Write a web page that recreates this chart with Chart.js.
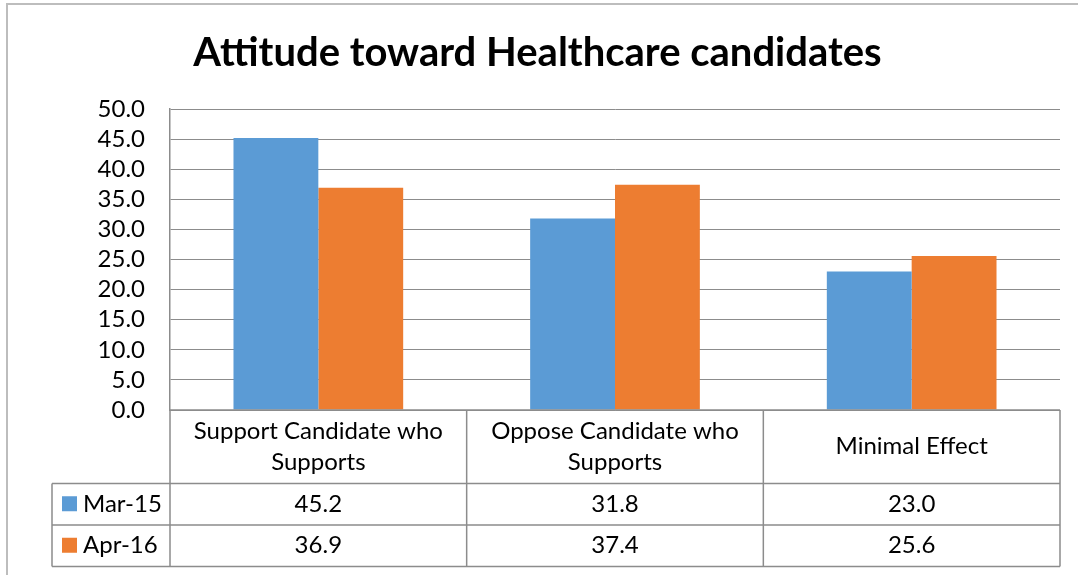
<!DOCTYPE html>
<html>
<head>
<meta charset="utf-8">
<script src="https://cdn.jsdelivr.net/npm/chart.js@4.4.1/dist/chart.umd.min.js"></script>
<style>
  html, body { margin: 0; padding: 0; background: #ffffff; }
  #wrap { width: 1078px; height: 575px; position: relative; }
</style>
</head>
<body>
<div id="wrap"><canvas id="chart" width="1078" height="575"></canvas></div>
<script>
// Survey categories (multi-line labels as shown in the table header)
const categories = [
  ['Support Candidate who', 'Supports'],
  ['Oppose Candidate who', 'Supports'],
  ['Minimal Effect']
];
const seriesNames = ['Mar-15', 'Apr-16'];
const mar15 = [45.2, 31.8, 23.0];
const apr16 = [36.9, 37.4, 25.6];
const yTicks = [0, 5, 10, 15, 20, 25, 30, 35, 40, 45, 50];

const BLUE = '#5B9BD5';
const ORANGE = '#ED7D31';
const LINE = '#8c8c8c';
const FONT = 'Lato, "Open Sans", sans-serif';
const TEXT_SIZE = 24;

// Frame around the whole chart object
const framePlugin = {
  id: 'frame',
  beforeDraw(chart) {
    const ctx = chart.ctx;
    ctx.save();
    ctx.fillStyle = '#ffffff';
    ctx.fillRect(0, 0, chart.width, chart.height);
    ctx.strokeStyle = '#bdbdbd';
    ctx.lineWidth = 2;
    ctx.strokeRect(7, 4, chart.width + 40, chart.height + 40);
    ctx.restore();
  }
};

// Data table under the plot: category header row + one row per series
const dataTablePlugin = {
  id: 'dataTable',
  afterDraw(chart) {
    const ctx = chart.ctx;
    const x = chart.scales.x;
    const area = chart.chartArea;
    const top = area.bottom;
    const headerH = 73.5;
    const rowH = 41.5;
    const keyLeft = 52;
    const right = area.right;
    const nCat = categories.length;
    const step = (area.right - area.left) / nCat;
    const rowsTop = top + headerH;
    const bottom = rowsTop + rowH * chart.data.datasets.length;

    ctx.save();
    ctx.strokeStyle = LINE;
    ctx.lineWidth = 1.5;
    ctx.beginPath();
    // horizontal rules
    ctx.moveTo(area.left, top); ctx.lineTo(right, top);
    for (let r = 0; r <= chart.data.datasets.length; r++) {
      const yy = rowsTop + r * rowH;
      ctx.moveTo(keyLeft, yy); ctx.lineTo(right, yy);
    }
    // vertical rules
    for (let c = 0; c <= nCat; c++) {
      const xx = area.left + c * step;
      ctx.moveTo(xx, top); ctx.lineTo(xx, bottom);
    }
    ctx.moveTo(keyLeft, rowsTop); ctx.lineTo(keyLeft, bottom);
    ctx.stroke();

    ctx.fillStyle = '#000000';
    ctx.font = TEXT_SIZE + 'px ' + FONT;
    ctx.textAlign = 'center';
    ctx.textBaseline = 'middle';
    // header: category names
    const lineGap = 31;
    chart.data.labels.forEach((lab, i) => {
      const lines = Array.isArray(lab) ? lab : [lab];
      const cx = x.getPixelForValue(i);
      const cy = top + headerH / 2;
      lines.forEach((ln, k) => {
        ctx.fillText(ln, cx, cy + (k - (lines.length - 1) / 2) * lineGap);
      });
    });
    // series rows: legend key + values
    chart.data.datasets.forEach((ds, r) => {
      const cy = rowsTop + r * rowH + rowH / 2;
      ctx.fillStyle = ds.backgroundColor;
      ctx.fillRect(62, cy - 8, 15, 15);
      ctx.fillStyle = '#000000';
      ctx.textAlign = 'left';
      ctx.fillText(ds.label, 83, cy);
      ctx.textAlign = 'center';
      ds.data.forEach((v, i) => {
        ctx.fillText(v.toFixed(1), x.getPixelForValue(i), cy);
      });
    });
    ctx.restore();
  }
};

new Chart(document.getElementById('chart'), {
  type: 'bar',
  data: {
    labels: categories,
    datasets: [
      { label: seriesNames[0], data: mar15, backgroundColor: BLUE },
      { label: seriesNames[1], data: apr16, backgroundColor: ORANGE }
    ]
  },
  options: {
    responsive: false,
    animation: false,
    devicePixelRatio: 1,
    layout: { padding: { top: 0, left: 15, right: 18, bottom: 165 } },
    datasets: { bar: { categoryPercentage: 0.572, barPercentage: 1.0 } },
    plugins: {
      legend: { display: false },
      tooltip: { enabled: false },
      title: {
        display: true,
        text: 'Attitude toward Healthcare candidates',
        color: '#000000',
        font: { family: FONT, size: 40, weight: 'bold', lineHeight: 1.2 },
        padding: { top: 29, bottom: 32 }
      }
    },
    scales: {
      x: { display: false },
      y: {
        min: 0,
        max: 50,
        afterFit(scale) { scale.width = 155; },
        afterBuildTicks(scale) { scale.ticks = yTicks.map(v => ({ value: v })); },
        ticks: {
          autoSkip: false,
          padding: 25,
          color: '#000000',
          font: { family: FONT, size: TEXT_SIZE },
          callback: v => Number(v).toFixed(1)
        },
        grid: { color: LINE, lineWidth: 1, drawTicks: false },
        border: { display: true, color: LINE, width: 1.5 }
      }
    }
  },
  plugins: [framePlugin, dataTablePlugin]
});
</script>
</body>
</html>
